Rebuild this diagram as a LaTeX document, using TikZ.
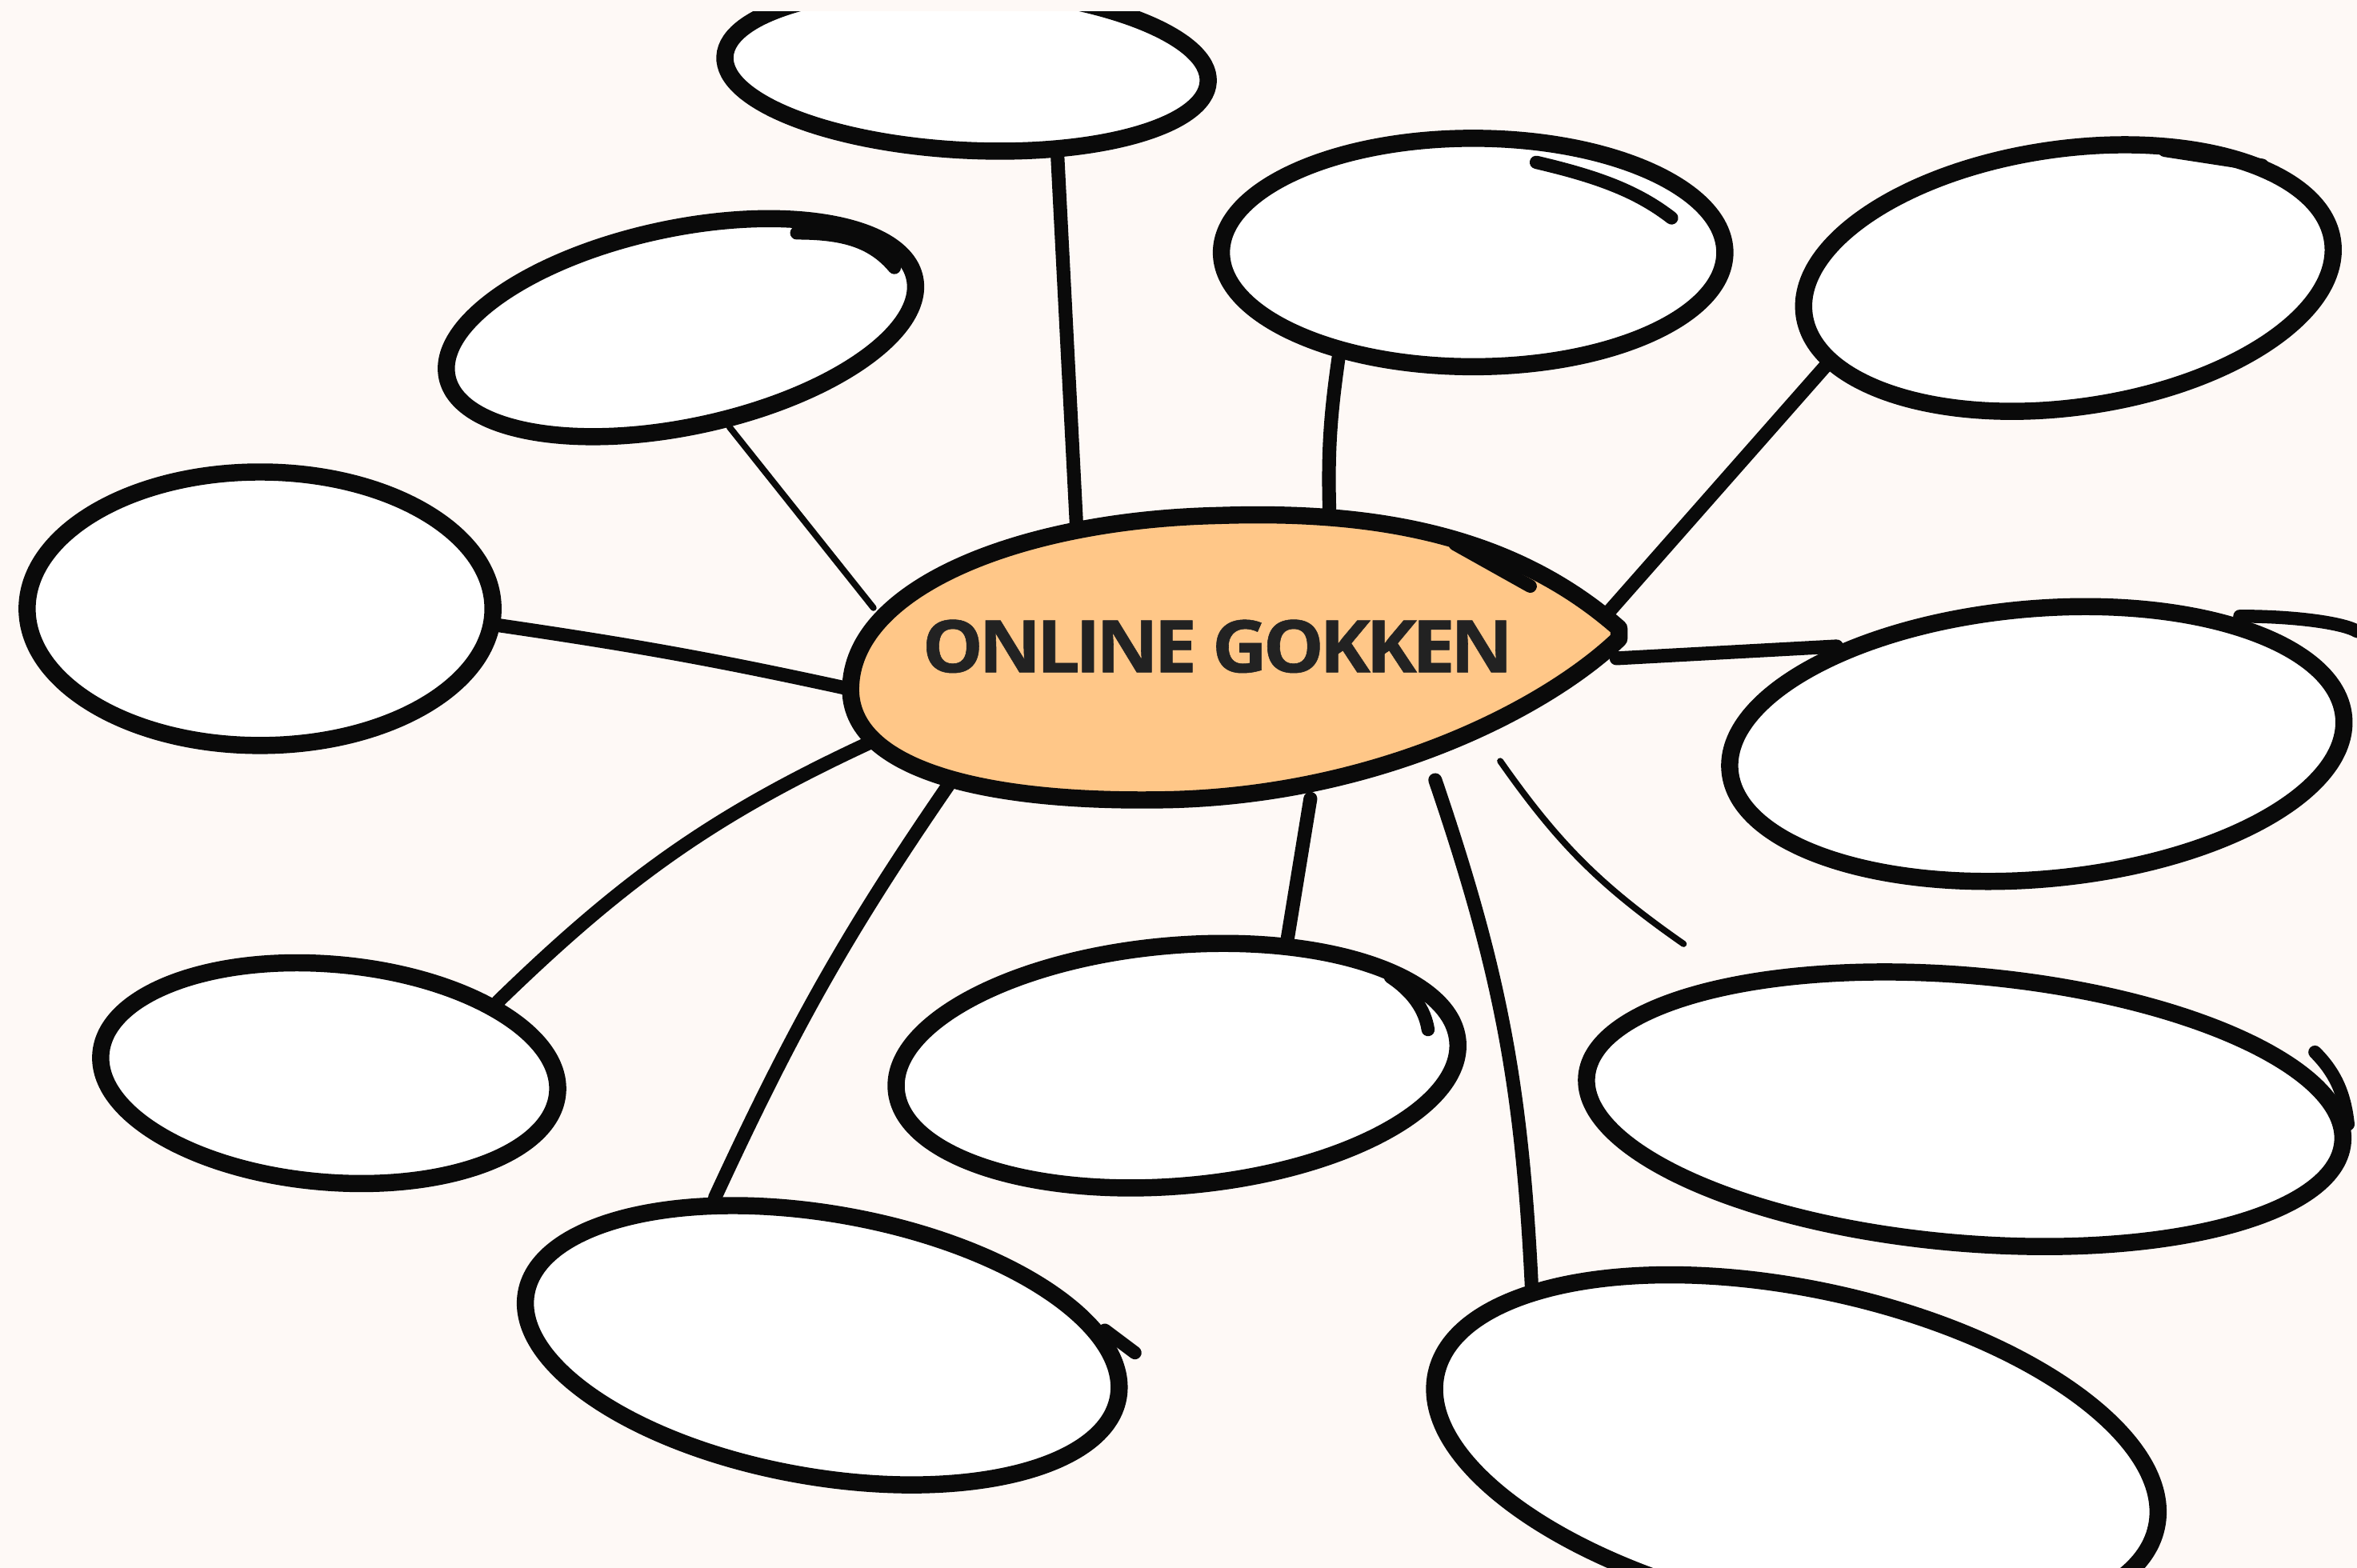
\documentclass[tikz,border=0pt]{standalone}
\usepackage{fontspec}
\setmainfont{Open Sans}
\usetikzlibrary{shapes.geometric}
\definecolor{bg}{HTML}{FEF9F6}
\definecolor{lemon}{HTML}{FFC788}
\definecolor{ink}{HTML}{0A0A0A}
\definecolor{txt}{HTML}{222222}
\pgfdeclarelayer{bgl}
\pgfdeclarelayer{links}
\pgfsetlayers{bgl,links,main}
\begin{document}
\begin{tikzpicture}[x=0.02cm,y=-0.02cm,
  bubble/.style={ellipse, draw=ink, fill=white, line width=6.5pt, inner sep=0pt},
  thicklink/.style={draw=ink, line width=5.2pt, line cap=round},
  thinlink/.style={draw=ink, line width=2.4pt, line cap=round},
  scribble/.style={draw=ink, line width=5pt, line cap=round}]
\begin{pgfonlayer}{bgl}
\fill[bg] (0,0) rectangle (1568,1043);
\end{pgfonlayer}
\useasboundingbox (0,0) rectangle (1568,1043);
\clip (0,0) rectangle (1568,1043);

% bubbles
\node[bubble, minimum width=6.44cm, minimum height=2.16cm, rotate=-3] (t1) at (643,46) {};
\node[bubble, minimum width=6.36cm, minimum height=2.64cm, rotate=12] (t2) at (453,218) {};
\node[bubble, minimum width=6.2cm, minimum height=3.64cm] (t3) at (173,405) {};
\node[bubble, minimum width=6.1cm, minimum height=2.9cm, rotate=-5] (t4) at (219,714) {};
\node[bubble, minimum width=8.0cm, minimum height=3.5cm, rotate=-10] (t5) at (547,895) {};
\node[bubble, minimum width=7.5cm, minimum height=3.2cm, rotate=5] (t6) at (783,709) {};
\node[bubble, minimum width=9.8cm, minimum height=4.3cm, rotate=-12] (t7) at (1195,965) {};
\node[bubble, minimum width=10.1cm, minimum height=3.56cm, rotate=-5] (t8) at (1307,738) {};
\node[bubble, minimum width=8.2cm, minimum height=3.6cm, rotate=5] (t9) at (1355,495) {};
\node[bubble, minimum width=7.1cm, minimum height=3.44cm, rotate=8] (t10) at (1376,185) {};
\node[bubble, minimum width=6.7cm, minimum height=3.04cm] (t11) at (980,168) {};

% centre
\draw[ink, line width=6.5pt, fill=lemon, line join=round]
  (1077,418) .. controls (1000,350) and (900,340) .. (810,343)
  .. controls (680,346) and (570,390) .. (566,455)
  .. controls (562,510) and (650,535) .. (780,532)
  .. controls (920,528) and (1030,470) .. (1077,425) -- cycle;
\node[ellipse, minimum width=10.2cm, minimum height=3.8cm, inner sep=0pt] (c) at (820,438) {};
\node[text=txt, inner sep=0pt] (label) at (810,430)
  {\resizebox{7.86cm}{0.70cm}{\bfseries\addfontfeatures{LetterSpace=-6,FakeBold=0.6}ONLINE GOKKEN}};
\coordinate (h2) at (1120,628);

% connectors
\begin{pgfonlayer}{links}
\draw[thicklink] (c.140) -- (t1.-41);
\draw[thinlink] (c.172) -- (t2.-76);
\draw[thicklink] (c.185) to[bend right=2] (t3.-4);
\draw[thicklink] (c.192) to[bend right=10] (t4.28);
\draw[thicklink] (c.201) to[bend right=5] (t5.136);
\draw[thicklink] (c.-61.5) -- (t6.44.6);
\draw[thicklink] (c.-31.6) to[bend left=8] (t7.160);
\draw[thinlink] (c.-21) to[bend right=10] (h2);
\draw[thicklink] (c.east) -- (t9.149);
\draw[thicklink] (c.6) -- (t10.192);
\draw[thicklink] (c.55) to[bend left=5] (t11.218);
\end{pgfonlayer}

% hand-drawn extra strokes
\draw[scribble] (1022,108) .. controls (1065,118) and (1090,128) .. (1112,145);
\draw[scribble] (1440,100) -- (1505,110);
\draw[scribble] (968,362) -- (1018,390);
\draw[scribble] (530,155) .. controls (560,155) and (580,160) .. (595,178);
\draw[scribble] (1490,410) .. controls (1530,410) and (1560,415) .. (1568,420);
\draw[scribble] (1540,700) .. controls (1555,715) and (1560,730) .. (1562,748);
\draw[scribble] (925,650) .. controls (940,660) and (948,672) .. (950,685);
\draw[scribble] (735,885) -- (755,900);

% top margin strip
\fill[bg] (0,0) rectangle (1568,7.5);
\end{tikzpicture}
\end{document}
